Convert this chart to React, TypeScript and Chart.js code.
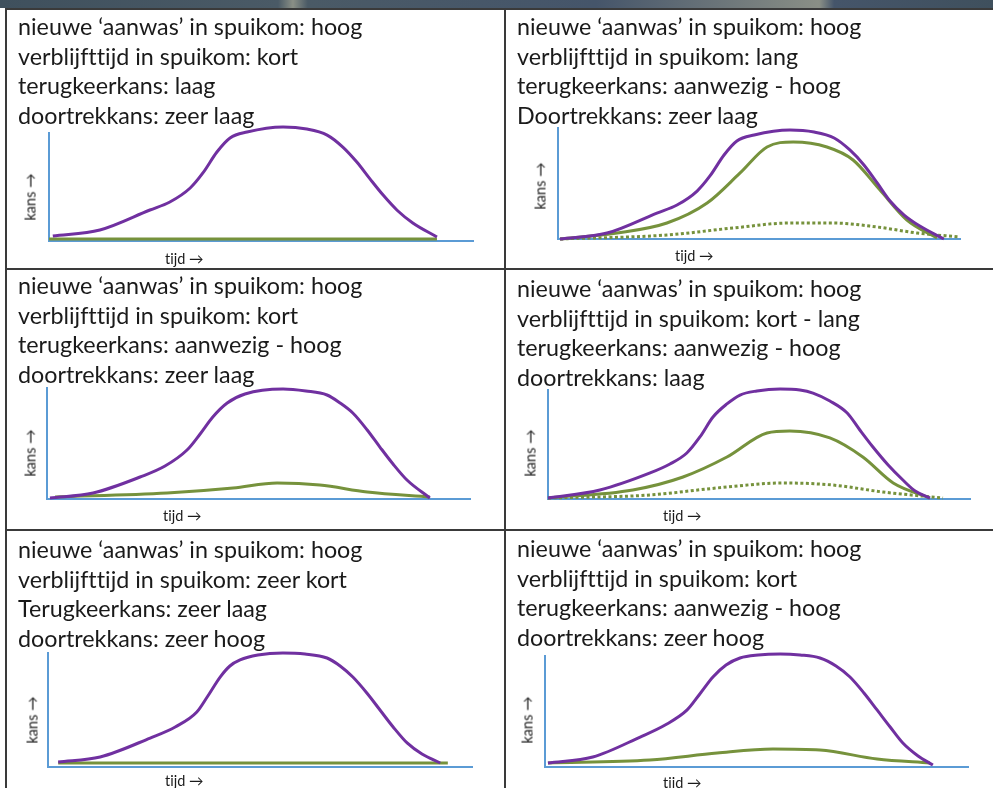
import React, { useEffect, useRef } from "react";
import { Chart, registerables } from "chart.js";

Chart.register(...registerables);

// ---- data: [tijd, kans] pairs; tijd 0–100 along the axis, kans 0–100 of axis height ----
const p1Paars = [[0.9, 4.6], [12, 10.2], [23.8, 28.7], [28.5, 36.1], [33.3, 49.1], [36.3, 63], [39.6, 82.4], [42.7, 95.4], [46.7, 100.9], [55.2, 105.6], [60.8, 103.7], [65.6, 98.1], [69.3, 87], [72.6, 73.1], [75.7, 57.5], [78.8, 42.5], [82.1, 28.5], [85.8, 16.7], [91.5, 3.7]];
const p1Groen = [[0, 1.9], [91.5, 1.9]];

const p2Paars = [[0.5, 0], [12.2, 5.4], [24.6, 23.4], [29.6, 30.6], [34.6, 43.2], [37.8, 56.8], [41.3, 75.7], [44.5, 88.3], [48.8, 93.7], [57.7, 98.2], [63.7, 96.4], [68.7, 91], [72.6, 80.2], [76.1, 66.7], [79.4, 50.5], [82.6, 34.2], [86.1, 21.6], [90, 11.7], [96, 0]];
const p2Groen = [[0.5, 0], [14.7, 5.4], [27.1, 14.4], [37.1, 32.4], [45.3, 59.5], [52, 82.9], [58.5, 87.4], [66.9, 82.9], [73.4, 71.2], [80.1, 44.1], [86.8, 17.1], [94.3, 0.9]];
const p2GroenStip = [[0.5, 0], [27.1, 3.6], [43.5, 9.9], [57.7, 14.4], [68.4, 14.4], [79.4, 10.8], [89.3, 5.4], [100, 1.8]];

const p3Paars = [[0.7, 0.9], [10.9, 5.4], [22, 19.8], [27.9, 29.7], [33.1, 44.1], [36.2, 58.6], [39.2, 73.9], [42.6, 86.5], [46.8, 94.6], [55.8, 99.1], [61.2, 97.3], [66.2, 93.7], [69.3, 86.5], [72.3, 77.5], [75.7, 62.2], [78.7, 46.8], [81.8, 31.5], [85.1, 17.1], [90.5, 0.9]];
const p3Groen = [[1.9, 1.8], [28.4, 5.4], [44, 9.9], [54.4, 14.4], [64.5, 12.6], [75.7, 6.3], [90.5, 1.8]];

const p4Paars = [[0, 0.9], [12.3, 8.3], [24.2, 23.9], [28.9, 32.1], [32.9, 42.2], [36, 56.9], [39.1, 75.2], [42.4, 87.2], [45.5, 95.4], [49.5, 99.1], [55, 100.9], [59.7, 100], [62.8, 97.2], [66.8, 89.9], [70.9, 78.9], [73.9, 63.3], [77, 47.7], [80.6, 31.2], [84.1, 17.4], [87, 7.3], [90.5, 0.9]];
const p4Groen = [[0, 0.9], [20.1, 8.3], [32, 20.2], [42.4, 38.5], [51.9, 60.6], [57.3, 62.4], [66.8, 56], [74.6, 38.5], [81.8, 14.7], [90.5, 0.9]];
const p4GroenStip = [[0, 0.9], [24.2, 3.7], [40, 10.1], [55.7, 14.7], [67.5, 12.8], [79.4, 6.4], [93.6, 0.9]];

const p5Paars = [[2.4, 4.4], [12.3, 8.8], [24.1, 25.4], [30, 35.1], [35.1, 48.2], [37.7, 62.3], [40.6, 78.9], [42.9, 88.6], [45.3, 93.9], [49.5, 98.2], [55.4, 100], [60.6, 99.1], [65.8, 95.6], [68.9, 88.6], [71.9, 78.9], [75.2, 64.9], [78.3, 50], [81.4, 35.1], [84.7, 21.1], [88.2, 11.4], [92.5, 3.5]];
const p5Groen = [[2.4, 3.5], [94.3, 3.5]];

const p6Paars = [[0.7, 3.6], [11.3, 9], [22.5, 27], [28.4, 37.8], [33.6, 51.4], [36.6, 65.8], [39.7, 81.1], [42.8, 91.9], [46.1, 98.2], [50.4, 100.9], [55.6, 101.8], [60.3, 100.9], [65, 98.2], [68.8, 91], [72.1, 81.1], [75.4, 66.7], [78.5, 51.4], [81.6, 36], [84.6, 21.6], [88.2, 9.9], [91.7, 1.8]];
const p6Groen = [[0.7, 3.6], [24.8, 6.3], [40.7, 12.6], [53.9, 16.2], [65, 15.3], [78.5, 7.2], [91, 3.6]];

// ---- texts ----
const p1Tekst = ["nieuwe \u2018aanwas\u2019 in spuikom: hoog", "verblijfttijd in spuikom: kort", "terugkeerkans: laag", "doortrekkans: zeer laag"];
const p2Tekst = ["nieuwe \u2018aanwas\u2019 in spuikom: hoog", "verblijfttijd in spuikom: lang", "terugkeerkans: aanwezig - hoog", "Doortrekkans: zeer laag"];
const p3Tekst = ["nieuwe \u2018aanwas\u2019 in spuikom: hoog", "verblijfttijd in spuikom: kort", "terugkeerkans: aanwezig - hoog", "doortrekkans: zeer laag"];
const p4Tekst = ["nieuwe \u2018aanwas\u2019 in spuikom: hoog", "verblijfttijd in spuikom: kort - lang", "terugkeerkans: aanwezig - hoog", "doortrekkans: laag"];
const p5Tekst = ["nieuwe \u2018aanwas\u2019 in spuikom: hoog", "verblijfttijd in spuikom: zeer kort", "Terugkeerkans: zeer laag", "doortrekkans: zeer hoog"];
const p6Tekst = ["nieuwe \u2018aanwas\u2019 in spuikom: hoog", "verblijfttijd in spuikom: kort", "terugkeerkans: aanwezig - hoog", "doortrekkans: zeer hoog"];

const xLabel = "tijd \u2192";
const yLabel = "kans \u2192";

const PAARS = "#7030A0";
const GROEN = "#76923C";
const BLAUW = "#5B9BD5";
const FONT = "Lato, 'Open Sans', sans-serif";

type Serie = { points: number[][]; color: string; dotted?: boolean };
type Panel = {
  tekst: string[];
  textLeft: number;
  textTop: number;
  area: { x0: number; x1: number; yTop: number; yBot: number };
  series: Serie[];
  tijd: { left: number; cy: number };
  kans: { cx: number; cy: number };
};

const panels: Panel[] = [
  {
    tekst: p1Tekst, textLeft: 18, textTop: 12,
    area: { x0: 49, x1: 473, yTop: 133, yBot: 241 },
    series: [{ points: p1Paars, color: PAARS }, { points: p1Groen, color: GROEN }],
    tijd: { left: 165, cy: 258 }, kans: { cx: 30, cy: 197 },
  },
  {
    tekst: p2Tekst, textLeft: 517, textTop: 12,
    area: { x0: 558, x1: 960, yTop: 128, yBot: 239 },
    series: [{ points: p2Paars, color: PAARS }, { points: p2Groen, color: GROEN }, { points: p2GroenStip, color: GROEN, dotted: true }],
    tijd: { left: 675, cy: 255 }, kans: { cx: 540, cy: 186 },
  },
  {
    tekst: p3Tekst, textLeft: 18, textTop: 271,
    area: { x0: 47, x1: 470, yTop: 388, yBot: 499 },
    series: [{ points: p3Paars, color: PAARS }, { points: p3Groen, color: GROEN }],
    tijd: { left: 163, cy: 515 }, kans: { cx: 30, cy: 453 },
  },
  {
    tekst: p4Tekst, textLeft: 517, textTop: 274,
    area: { x0: 548, x1: 970, yTop: 390, yBot: 499 },
    series: [{ points: p4Paars, color: PAARS }, { points: p4Groen, color: GROEN }, { points: p4GroenStip, color: GROEN, dotted: true }],
    tijd: { left: 663, cy: 515 }, kans: { cx: 530, cy: 453 },
  },
  {
    tekst: p5Tekst, textLeft: 18, textTop: 535,
    area: { x0: 48, x1: 472, yTop: 653, yBot: 767 },
    series: [{ points: p5Paars, color: PAARS }, { points: p5Groen, color: GROEN }],
    tijd: { left: 165, cy: 780 }, kans: { cx: 32, cy: 720 },
  },
  {
    tekst: p6Tekst, textLeft: 517, textTop: 534,
    area: { x0: 545, x1: 968, yTop: 656, yBot: 767 },
    series: [{ points: p6Paars, color: PAARS }, { points: p6Groen, color: GROEN }],
    tijd: { left: 663, cy: 782 }, kans: { cx: 527, cy: 720 },
  },
];

const PAD = { left: 12, right: 14, top: 24, bottom: 10 };

function MiniChart({ panel }: { panel: Panel }) {
  const ref = useRef<HTMLCanvasElement | null>(null);
  const { area } = panel;
  const w = area.x1 - area.x0 + PAD.left + PAD.right;
  const h = area.yBot - area.yTop + PAD.top + PAD.bottom;

  useEffect(() => {
    if (!ref.current) return;
    const axis = (min: number, max: number) => ({
      type: "linear" as const,
      min,
      max,
      grid: { display: false, drawTicks: false },
      ticks: { display: false },
      border: { display: true, color: BLAUW, width: 2 },
      title: { display: false },
    });
    const chart = new Chart(ref.current, {
      type: "line",
      data: {
        datasets: panel.series.map((s) => ({
          data: s.points.map(([x, y]) => ({ x, y })),
          borderColor: s.color,
          borderWidth: 3,
          borderDash: s.dotted ? [3, 2.5] : [],
          borderCapStyle: "butt" as const,
          borderJoinStyle: "round" as const,
          pointRadius: 0,
          cubicInterpolationMode: "monotone" as const,
          fill: false,
          clip: false as any,
        })),
      },
      options: {
        responsive: false,
        maintainAspectRatio: false,
        animation: false,
        events: [],
        layout: { padding: PAD },
        plugins: { legend: { display: false }, tooltip: { enabled: false }, title: { display: false } },
        scales: { x: axis(0, 100), y: axis(0, 100) },
      },
    });
    return () => chart.destroy();
  }, [panel]);

  return (
    <canvas
      ref={ref}
      width={w}
      height={h}
      style={{ position: "absolute", left: area.x0 - PAD.left, top: area.yTop - PAD.top, width: w, height: h }}
    />
  );
}

const smallLabel: React.CSSProperties = {
  position: "absolute",
  fontFamily: FONT,
  fontSize: 14.5,
  color: "#1a1a1a",
  whiteSpace: "nowrap",
  fontVariantLigatures: "none",
};

function PanelView({ panel }: { panel: Panel }) {
  return (
    <>
      <MiniChart panel={panel} />
      <div
        style={{
          position: "absolute",
          left: panel.textLeft,
          top: panel.textTop,
          fontFamily: FONT,
          fontSize: 23.3,
          lineHeight: "29.5px",
          color: "#1a1a1a",
          whiteSpace: "nowrap",
          fontVariantLigatures: "none",
        }}
      >
        {panel.tekst.map((t, i) => (
          <div key={i}>{t}</div>
        ))}
      </div>
      <div style={{ ...smallLabel, left: panel.tijd.left, top: panel.tijd.cy, transform: "translateY(-50%)" }}>{xLabel}</div>
      <div style={{ ...smallLabel, left: panel.kans.cx, top: panel.kans.cy, transform: "translate(-50%, -50%) rotate(-90deg)" }}>{yLabel}</div>
    </>
  );
}

const LINE = "#3a3a3a";

export default function App() {
  return (
    <div style={{ position: "absolute", left: 0, top: 0, width: 993, height: 788, overflow: "hidden", background: "#ffffff" }}>
      <div style={{ position: "absolute", left: 0, top: 0, width: 993, height: 8, background: "linear-gradient(90deg, #3f505d 0%, #4a5a66 28%, #8a8f86 29.5%, #4a5a66 31%, #45556a 60%, #8a8f86 82.5%, #45556a 84%, #3f505d 100%)" }} />
      <div style={{ position: "absolute", left: 5, top: 8, width: 988, height: 2, background: LINE }} />
      <div style={{ position: "absolute", left: 5, top: 8, width: 2, height: 780, background: LINE }} />
      <div style={{ position: "absolute", left: 504, top: 8, width: 2, height: 780, background: LINE }} />
      <div style={{ position: "absolute", left: 5, top: 268, width: 988, height: 2, background: LINE }} />
      <div style={{ position: "absolute", left: 5, top: 529, width: 988, height: 2, background: LINE }} />
      {panels.map((p, i) => (
        <PanelView key={i} panel={p} />
      ))}
    </div>
  );
}
